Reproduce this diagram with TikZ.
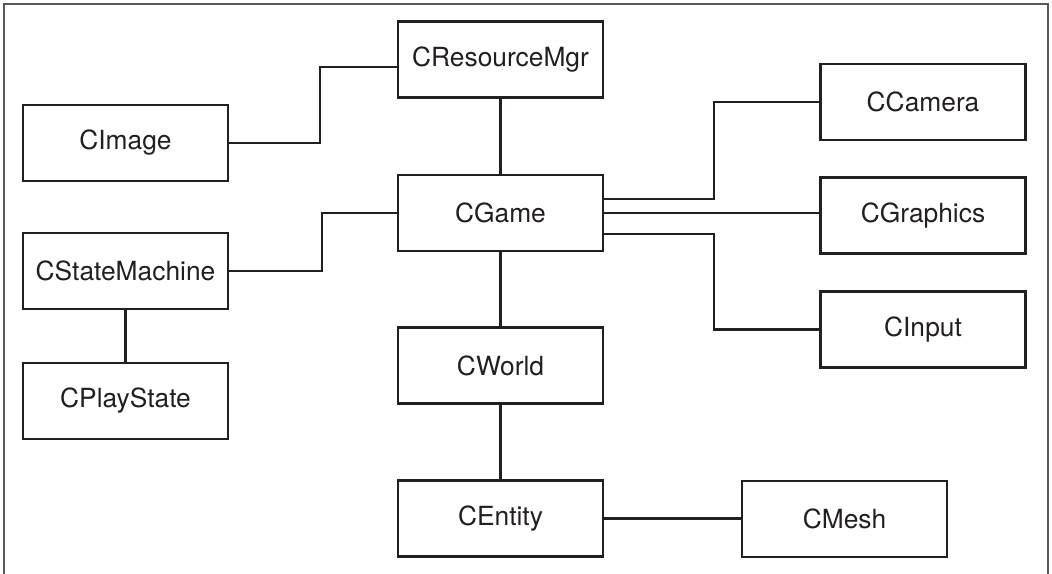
\documentclass[tikz,border=0pt]{standalone}
\usepackage{fontspec}
\setmainfont{TeX Gyre Heros}
\usepackage{tikz}
\usetikzlibrary{positioning,calc}
\definecolor{ink}{HTML}{231F20}

\begin{document}
\begin{tikzpicture}[x=0.02cm, y=-0.02cm,
  cls/.style={draw=ink, line width=1.4pt, minimum width=4.1cm, minimum height=1.52cm, inner sep=0pt, text=ink, font=\fontsize{15}{18}\selectfont},
  link/.style={draw=ink, line width=1.4pt},
  frame/.style={draw=ink!75, line width=0.8pt}]
\useasboundingbox (0,0) rectangle (1052,574);
\draw[frame] (4,574) -- (4,4) -- (1048,4) -- (1048,574);
% left column
\node[cls] (img)   at (125.5,143) {CImage};
\node[cls] (sm)    at (125.5,271) {CStateMachine};
\node[cls] (play)  at (125.5,401) {CPlayState};
% middle column
\node[cls] (rmgr)  at (500.5,59.5) {CResourceMgr};
\node[cls] (game)  at (500.5,213)  {CGame};
\node[cls] (world) at (500.5,365.5) {CWorld};
\node[cls] (ent)   at (500.5,518.5) {CEntity};
% right column
\node[cls] (cam)   at (923,102)   {CCamera};
\node[cls] (gfx)   at (923,215.5) {CGraphics};
\node[cls] (inp)   at (923,329.5) {CInput};
\node[cls] (mesh)  at (844.5,519) {CMesh};
% links
\coordinate (j1) at (320,67);
\draw[link] (img.east) -| (j1) -- (j1 -| rmgr.west);
\draw[link] (sm.east) -- ++(93,0) |- (game.west);
\draw[link] (sm) -- (play);
\draw[link] (rmgr) -- (game);
\draw[link] (game) -- (world);
\draw[link] (world) -- (ent);
\draw[link] (ent.east) -- (ent.east -| mesh.west);
\draw[link] ([yshift=0.28cm]game.east) -- ++(110,0) |- (cam.west);
\draw[link] (game.east) -- (game.east -| gfx.west);
\draw[link] ([yshift=-0.42cm]game.east) -- ++(110,0) |- (inp.west);
\end{tikzpicture}
\end{document}
